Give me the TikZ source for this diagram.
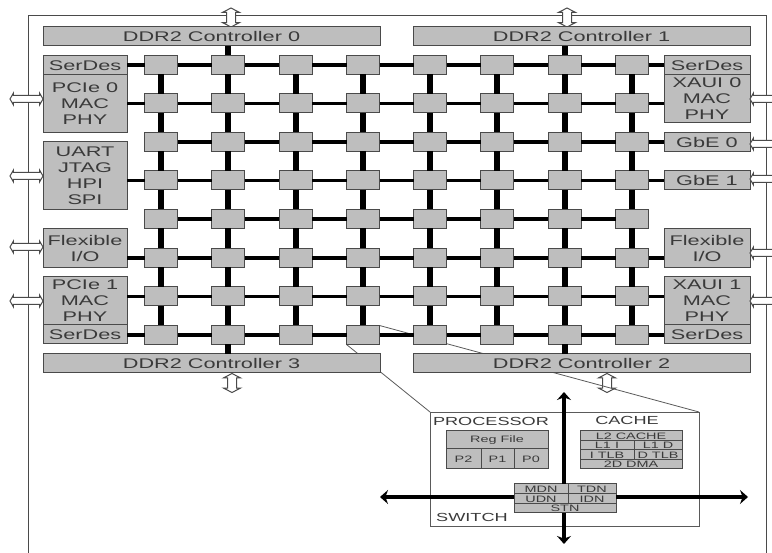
\documentclass[tikz,border=0pt]{standalone}
\usepackage{xcolor}
\usepackage{fontspec}
\setmainfont[FakeStretch=1.55]{Liberation Sans}
\usetikzlibrary{shapes.arrows, arrows.meta, backgrounds}

\definecolor{boxgray}{HTML}{BEBEBE}
\definecolor{edgegray}{HTML}{4A4A4A}
\definecolor{textgray}{HTML}{3A3A3A}
\definecolor{leadgray}{HTML}{5A5A5A}

\begin{document}
\begin{tikzpicture}[
    x=1pt, y=-1pt,
    every node/.style={inner sep=0pt, outer sep=0pt, text=textgray},
    tile/.style={rectangle, draw=edgegray, fill=boxgray, line width=1pt,
                 minimum width=33pt, minimum height=19pt},
    block/.style={rectangle, draw=edgegray, fill=boxgray, line width=1pt, anchor=north west,
                  align=center, font=\fontsize{14}{16}\selectfont},
    cell/.style={block, font=\fontsize{9.3}{10}\selectfont},
    title/.style={font=\fontsize{11.7}{13}\selectfont},
    hlink/.style={line width=3.8pt, black},
    vlink/.style={line width=6pt, black},
    lead/.style={draw=leadgray, line width=0.8pt},
    hport/.style={double arrow, draw=edgegray, fill=white, line width=1pt, double arrow tip angle=120,
                  double arrow head extend=2.5pt, inner sep=3pt},
    vport/.style={double arrow, draw=edgegray, fill=white, line width=1pt, double arrow tip angle=125,
                  double arrow head extend=4pt, inner sep=4pt, minimum height=19pt,
                  shape border rotate=90},
    bigarrow/.style={line width=4.6pt, black, -{Stealth[length=8pt, width=14pt]}}
]
    \clip (0,0) rectangle (772,553);

    % Chip outline
    \draw[draw=edgegray, line width=1pt] (28,553) -- (28,16) -- (766,16) -- (766,553);

    % Memory ports, top and bottom
    \node[vport] (port0) at (231,17.5) {};
    \node[vport] (port1) at (567,17.5) {};
    \node[vport] (port3) at (232,383) {};

    % Tile grid
    \foreach \py [count=\r] in {65,103.5,142,180.5,219,258,296.5,335}
        \foreach \px [count=\c] in {161,228,295.5,363,430,497,564.5,632}
            \node[tile] (t\r\c) at (\px,\py) {};

    % Memory controllers
    \node[block, minimum width=337pt, minimum height=19pt] (ddr0) at (43,27)  {DDR2 Controller 0};
    \node[block, minimum width=337pt, minimum height=19pt] (ddr1) at (413,27) {DDR2 Controller 1};
    \node[block, minimum width=337pt, minimum height=19pt] (ddr3) at (43,354) {DDR2 Controller 3};
    \node[block, minimum width=337pt, minimum height=19pt] (ddr2) at (413,354) {DDR2 Controller 2};

    % Left side I/O
    \node[block, minimum width=84pt, minimum height=19pt] (serdesa) at (43,56)  {SerDes};
    \node[block, minimum width=84pt, minimum height=58pt] (pcie0)   at (43,75)  {PCIe 0\\MAC\\PHY};
    \node[block, minimum width=84pt, minimum height=68pt] (uart)    at (43,142) {UART\\JTAG\\HPI\\SPI};
    \node[block, minimum width=84pt, minimum height=39pt] (flexl)   at (43,229) {Flexible\\I/O};
    \node[block, minimum width=84pt, minimum height=48pt] (pcie1)   at (43,277) {PCIe 1\\MAC\\PHY};
    \node[block, minimum width=84pt, minimum height=19pt] (serdesb) at (43,325) {SerDes};

    % Right side I/O
    \node[block, minimum width=86pt, minimum height=19pt] (serdesc) at (664,56)  {SerDes};
    \node[block, minimum width=86pt, minimum height=48pt] (xaui0)   at (664,75)  {XAUI 0\\MAC\\PHY};
    \node[block, minimum width=86pt, minimum height=19pt] (gbe0)    at (664,133) {GbE 0};
    \node[block, minimum width=86pt, minimum height=19pt] (gbe1)    at (664,171) {GbE 1};
    \node[block, minimum width=86pt, minimum height=39pt] (flexr)   at (664,229) {Flexible\\I/O};
    \node[block, minimum width=86pt, minimum height=48pt] (xaui1)   at (664,277) {XAUI 1\\MAC\\PHY};
    \node[block, minimum width=86pt, minimum height=19pt] (serdesd) at (664,325) {SerDes};

    % Mesh links
    \foreach \r in {1,...,8}
        \foreach \c/\d in {1/2,2/3,3/4,4/5,5/6,6/7,7/8}
            \draw[hlink] (t\r\c) -- (t\r\d);
    \foreach \r/\s in {1/2,2/3,3/4,4/5,5/6,6/7,7/8}
        \foreach \c in {1,...,8}
            \draw[vlink] (t\r\c) -- (t\s\c);

    % Links to the I/O blocks
    \draw[hlink] (t11 -| serdesa.east) -- (t11);
    \draw[hlink] (t21 -| pcie0.east)   -- (t21);
    \draw[hlink] (t41 -| uart.east)    -- (t41);
    \draw[hlink] (t61 -| flexl.east)   -- (t61);
    \draw[hlink] (t71 -| pcie1.east)   -- (t71);
    \draw[hlink] (t81 -| serdesb.east) -- (t81);
    \draw[hlink] (t18) -- (t18 -| serdesc.west);
    \draw[hlink] (t28) -- (t28 -| xaui0.west);
    \draw[hlink] (t38) -- (t38 -| gbe0.west);
    \draw[hlink] (t48) -- (t48 -| gbe1.west);
    \draw[hlink] (t68) -- (t68 -| flexr.west);
    \draw[hlink] (t78) -- (t78 -| xaui1.west);
    \draw[hlink] (t88) -- (t88 -| serdesd.west);

    % Links to the controllers
    \draw[vlink] (t12) -- (t12 |- ddr0.south);
    \draw[vlink] (t17) -- (t17 |- ddr1.south);
    \draw[vlink] (t82) -- (t82 |- ddr3.north);
    \draw[vlink] (t87) -- (t87 |- ddr2.north);

    % I/O ports
    \foreach \py/\name in {99/a,176/b,247/c,301/d}
        \node[hport, minimum height=33pt] (portl\name) at (26.5,\py) {};
    \foreach \py/\name in {99/a,144/b,179/c,253/d,301/e}
        \node[hport, minimum height=44pt] (portr\name) at (772,\py) {};

    % Enlarged tile
    \node[rectangle, draw=leadgray, line width=0.8pt, anchor=north west,
          minimum width=269pt, minimum height=114pt] (panel) at (430,412) {};

    \begin{scope}[on background layer]
        \node[vport] (port2) at (607,383) {};
        \draw[lead] (t84.north east) -- (panel.north east);
        \draw[lead] (t84.south west) -- (panel.north west);
    \end{scope}

    \node[title] (proctitle)  at (491,421) {PROCESSOR};
    \node[title] (cachetitle) at (627,420) {CACHE};
    \node[title] (swtitle)    at (472,517) {SWITCH};

    % Processor
    \node[cell, minimum width=102pt, minimum height=18pt] (regfile) at (446,431) {Reg File};
    \node[cell, minimum width=35pt, minimum height=20pt]  (ptwo)    at (446,449) {P2};
    \node[cell, minimum width=33pt, minimum height=20pt]  (pone)    at (481,449) {P1};
    \node[cell, minimum width=34pt, minimum height=20pt]  (pzero)   at (514,449) {P0};

    % Cache
    \node[cell, minimum width=102pt, minimum height=10pt] (ltwo) at (580,431) {L2 CACHE};
    \node[cell, minimum width=54pt, minimum height=9pt]   (loi)  at (580,441) {L1 I};
    \node[cell, minimum width=48pt, minimum height=9pt]   (lod)  at (634,441) {L1 D};
    \node[cell, minimum width=54pt, minimum height=10pt]  (itlb) at (580,450) {I TLB};
    \node[cell, minimum width=48pt, minimum height=10pt]  (dtlb) at (634,450) {D TLB};
    \node[cell, minimum width=102pt, minimum height=9pt]  (dma)  at (580,460) {2D DMA};

    % Switch
    \node[cell, minimum width=54pt, minimum height=10pt] (mdn) at (514,484) {MDN};
    \node[cell, minimum width=48pt, minimum height=10pt] (tdn) at (568,484) {TDN};
    \node[cell, minimum width=54pt, minimum height=10pt] (udn) at (514,494) {UDN};
    \node[cell, minimum width=48pt, minimum height=10pt] (idn) at (568,494) {IDN};
    \node[cell, minimum width=102pt, minimum height=9pt] (stn) at (514,504) {STN};

    % Network arrows
    \coordinate (crossn) at (564,392);
    \coordinate (crosss) at (564,544);
    \coordinate (crossw) at (380,497);
    \coordinate (crosse) at (748,497);
    \draw[bigarrow] (crossn |- mdn.north) -- (crossn);
    \draw[bigarrow] (crosss |- stn.south) -- (crosss);
    \draw[bigarrow] (crossw -| udn.west)  -- (crossw);
    \draw[bigarrow] (crosse -| idn.east)  -- (crosse);

\end{tikzpicture}
\end{document}
